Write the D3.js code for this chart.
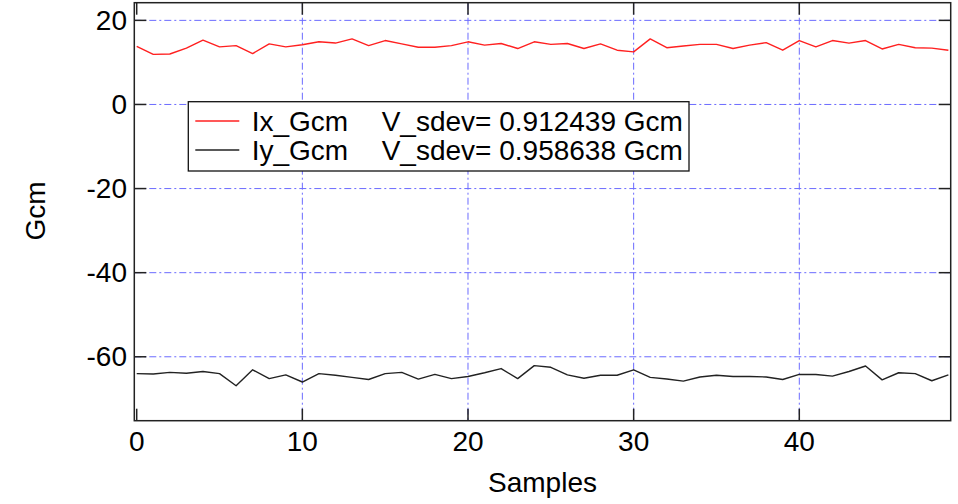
<!DOCTYPE html>
<html>
  <head>
    <meta charset="utf-8">
    <title>Ix / Iy Gcm samples</title>
    <script src="https://cdn.jsdelivr.net/npm/d3@7"></script>
    <style>
      body { margin: 0; background: #fff; }
      #chart { display: block; font-family: "Liberation Sans", Arial, sans-serif; }
      .grid line { stroke: #6b6bff; stroke-width: 1; stroke-dasharray: 7,3,2,3; }
      .frame { fill: none; stroke: #222; stroke-width: 1.5; }
      .tick-in { stroke: #222; stroke-width: 1.5; }
      .label { font-size: 28px; fill: #000; }
    </style>
  </head>

  <body>
    <svg id="chart" width="958" height="504"></svg>

    <script>
      // data
      samples = d3.range(50);
      ixGcm = [13.8, 11.9, 12.0, 13.4, 15.3, 13.7, 14.0, 12.1, 14.4, 13.7,
               14.2, 14.9, 14.6, 15.6, 14.0, 15.2, 14.4, 13.6, 13.6, 14.0,
               14.9, 14.1, 14.5, 13.3, 14.9, 14.3, 14.5, 13.3, 14.4, 12.9,
               12.5, 15.6, 13.5, 13.9, 14.3, 14.3, 13.3, 14.1, 14.7, 12.9,
               15.2, 13.7, 15.2, 14.6, 15.2, 13.2, 14.3, 13.5, 13.4, 12.9];
      iyGcm = [-64.0, -64.1, -63.7, -63.9, -63.5, -64.0, -66.9, -63.1, -65.2, -64.3,
               -66.0, -64.0, -64.4, -64.9, -65.4, -64.0, -63.7, -65.3, -64.2, -65.2,
               -64.7, -63.8, -62.8, -65.2, -62.1, -62.5, -64.3, -65.1, -64.4, -64.4,
               -63.1, -64.9, -65.3, -65.8, -64.8, -64.4, -64.7, -64.7, -64.8, -65.4,
               -64.2, -64.2, -64.6, -63.5, -62.2, -65.5, -63.8, -64.0, -65.7, -64.3];
      series = [
        { name: "Ix_Gcm", sdev: "0.912439", color: "#ff2020", values: ixGcm },
        { name: "Iy_Gcm", sdev: "0.958638", color: "#222222", values: iyGcm }
      ];
      xTicks = [0, 10, 20, 30, 40];
      yTicks = [20, 0, -20, -40, -60];

      // elements
      chart = d3.select("#chart");
      margin = { top: 2.7, right: 7.3, bottom: 83.3, left: 134.3 };
      width = 958;
      height = 504;
      tickLen = 12;

      x = d3.scaleLinear()
        .domain([-0.145, 49.14])
        .range([margin.left, width - margin.right]);
      y = d3.scaleLinear()
        .domain([-75.2, 24.2])
        .range([height - margin.bottom, margin.top]);

      // grid
      grid = chart.append("g").classed("grid", true);
      grid.selectAll(".gx")
          .data(xTicks.filter(d => d > 0))
        .enter().append("line")
          .attr("x1", d => x(d))
          .attr("x2", d => x(d))
          .attr("y1", y.range()[1])
          .attr("y2", y.range()[0]);
      grid.selectAll(".gy")
          .data(yTicks)
        .enter().append("line")
          .attr("x1", x.range()[0])
          .attr("x2", x.range()[1])
          .attr("y1", d => y(d))
          .attr("y2", d => y(d));

      // inward ticks, matlab style
      ticks = chart.append("g");
      xTicks.forEach(d => {
        ticks.append("line").classed("tick-in", true)
          .attr("x1", x(d)).attr("x2", x(d))
          .attr("y1", y.range()[0]).attr("y2", y.range()[0] - tickLen);
        ticks.append("line").classed("tick-in", true)
          .attr("x1", x(d)).attr("x2", x(d))
          .attr("y1", y.range()[1]).attr("y2", y.range()[1] + tickLen);
      });
      yTicks.forEach(d => {
        ticks.append("line").classed("tick-in", true)
          .attr("x1", x.range()[0]).attr("x2", x.range()[0] + tickLen)
          .attr("y1", y(d)).attr("y2", y(d));
        ticks.append("line").classed("tick-in", true)
          .attr("x1", x.range()[1]).attr("x2", x.range()[1] - tickLen)
          .attr("y1", y(d)).attr("y2", y(d));
      });

      chart.append("rect").classed("frame", true)
        .attr("x", x.range()[0])
        .attr("y", y.range()[1])
        .attr("width", x.range()[1] - x.range()[0])
        .attr("height", y.range()[0] - y.range()[1]);

      // tick labels
      chart.selectAll(".xlab")
          .data(xTicks)
        .enter().append("text").classed("label", true)
          .attr("x", d => x(d))
          .attr("y", 451)
          .attr("text-anchor", "middle")
          .text(d => d);
      chart.selectAll(".ylab")
          .data(yTicks)
        .enter().append("text").classed("label", true)
          .attr("x", 127)
          .attr("y", d => y(d) + 9.5)
          .attr("text-anchor", "end")
          .text(d => d);

      chart.append("text").classed("label", true)
        .attr("x", (x.range()[0] + x.range()[1]) / 2)
        .attr("y", 492)
        .attr("text-anchor", "middle")
        .text("Samples");
      chart.append("text").classed("label", true)
        .attr("transform", "translate(45, 211) rotate(-90)")
        .attr("text-anchor", "middle")
        .text("Gcm");

      // lines
      line = d3.line()
        .x((d, i) => x(samples[i]))
        .y(d => y(d));
      chart.selectAll(".series")
          .data(series)
        .enter().append("path")
          .attr("fill", "none")
          .attr("stroke", d => d.color)
          .attr("stroke-width", 1.4)
          .attr("stroke-linejoin", "round")
          .attr("d", d => line(d.values));

      // legend
      legend = chart.append("g")
        .attr("transform", "translate(188.3, 101.7)");
      legend.append("rect")
        .attr("width", 500.7)
        .attr("height", 69.3)
        .attr("fill", "#fff")
        .attr("stroke", "#111")
        .attr("stroke-width", 1.3);
      items = legend.selectAll(".item")
          .data(series)
        .enter().append("g")
          .attr("transform", (d, i) => "translate(0, " + (19.3 + i * 29) + ")");
      items.append("line")
        .attr("x1", 7).attr("x2", 51)
        .attr("stroke", d => d.color)
        .attr("stroke-width", 1.3);
      items.append("text").classed("label", true)
        .attr("x", 63.4)
        .attr("y", 9.5)
        .text(d => d.name);
      items.append("text").classed("label", true)
        .attr("x", 193.4)
        .attr("y", 9.5)
        .text(d => "V_sdev= " + d.sdev + " Gcm");
    </script>
  </body>
</html>
